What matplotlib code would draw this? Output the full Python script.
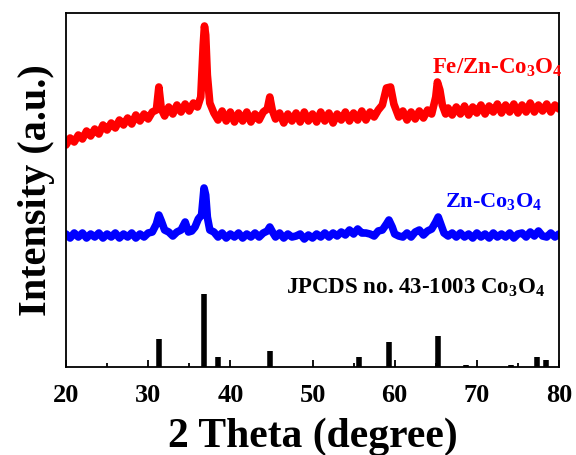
import numpy as np
import matplotlib
matplotlib.use("Agg")
import matplotlib.pyplot as plt
from matplotlib.ticker import MultipleLocator

plt.rcParams["font.family"] = ["Liberation Serif", "DejaVu Serif"]
plt.rcParams["font.weight"] = "bold"
plt.rcParams["mathtext.default"] = "regular"

# Fe/Zn-Co3O4 pattern (2theta, intensity a.u.)
fe_x = [20.0, 20.5, 21.0, 21.5, 22.0, 22.5, 23.0, 23.5, 24.0, 24.5, 25.0, 25.5, 26.0, 26.5,
        27.0, 27.5, 28.0, 28.5, 29.0, 29.5, 30.0, 30.5, 31.0, 31.3, 31.6, 32.0, 32.5, 33.0,
        33.5, 34.0, 34.5, 35.0, 35.5, 36.0, 36.4, 36.7, 36.85, 37.0, 37.2, 37.5, 38.0, 38.5,
        39.0, 39.5, 40.0, 40.5, 41.0, 41.5, 42.0, 42.5, 43.0, 43.5, 44.0, 44.5, 44.8, 45.1,
        45.5, 46.0, 46.5, 47.0, 47.5, 48.0, 48.5, 49.0, 49.5, 50.0, 50.5, 51.0, 51.5, 52.0,
        52.5, 53.0, 53.5, 54.0, 54.5, 55.0, 55.5, 56.0, 56.5, 57.0, 57.5, 58.0, 58.5, 59.0,
        59.5, 59.9, 60.5, 61.0, 61.5, 62.0, 62.5, 63.0, 63.5, 64.0, 64.5, 65.0, 65.2, 65.5,
        65.8, 66.2, 66.5, 67.0, 67.5, 68.0, 68.5, 69.0, 69.5, 70.0, 70.5, 71.0, 71.5, 72.0,
        72.5, 73.0, 73.5, 74.0, 74.5, 75.0, 75.5, 76.0, 76.5, 77.0, 77.5, 78.0, 78.5, 79.0,
        79.5, 80.0]
fe_y = [222, 229, 225, 232, 228, 236, 231, 238, 233, 242, 237, 244, 239, 247,
        242, 249, 243, 252, 246, 253, 248, 255, 257, 280, 258, 251, 260, 253,
        262, 255, 263, 256, 264, 260, 270, 322, 341, 332, 292, 264, 254, 247,
        256, 246, 255, 245, 254, 246, 255, 245, 253, 247, 255, 258, 270, 257,
        248, 254, 244, 253, 246, 254, 245, 255, 246, 253, 245, 255, 246, 254,
        244, 253, 247, 255, 246, 254, 247, 256, 247, 255, 250, 257, 262, 279,
        280, 263, 250, 256, 247, 255, 248, 256, 249, 257, 253, 270, 285, 277,
        262, 253, 259, 252, 260, 253, 261, 252, 260, 254, 262, 253, 261, 255,
        263, 254, 262, 255, 263, 254, 262, 255, 264, 255, 262, 256, 263, 255,
        262, 258]

# Zn-Co3O4 pattern
zn_x = [20.0, 20.5, 21.0, 21.5, 22.0, 22.5, 23.0, 23.5, 24.0, 24.5, 25.0, 25.5, 26.0, 26.5,
        27.0, 27.5, 28.0, 28.5, 29.0, 29.5, 30.0, 30.5, 31.0, 31.3, 31.6, 32.0, 32.5, 33.0,
        33.5, 34.0, 34.5, 34.9, 35.3, 35.7, 36.1, 36.5, 36.8, 37.0, 37.2, 37.5, 38.0, 38.5,
        39.0, 39.5, 40.0, 40.5, 41.0, 41.5, 42.0, 42.5, 43.0, 43.5, 44.0, 44.5, 44.8, 45.2,
        45.5, 46.0, 46.5, 47.0, 47.5, 48.0, 48.5, 49.0, 49.5, 50.0, 50.5, 51.0, 51.5, 52.0,
        52.5, 53.0, 53.5, 54.0, 54.5, 55.0, 55.5, 56.0, 56.5, 57.0, 57.5, 58.0, 58.5, 59.0,
        59.3, 59.7, 60.0, 60.5, 61.0, 61.5, 62.0, 62.5, 63.0, 63.5, 64.0, 64.5, 65.0, 65.3,
        65.6, 66.0, 66.5, 67.0, 67.5, 68.0, 68.5, 69.0, 69.5, 70.0, 70.5, 71.0, 71.5, 72.0,
        72.5, 73.0, 73.5, 74.0, 74.5, 75.0, 75.5, 76.0, 76.5, 77.0, 77.5, 78.0, 78.5, 79.0,
        79.5, 80.0]
zn_y = [133, 129, 134, 130, 134, 129, 133, 130, 134, 129, 133, 130, 134, 129,
        133, 130, 134, 129, 133, 130, 134, 135, 143, 152, 146, 137, 135, 131,
        135, 137, 145, 135, 136, 140, 148, 152, 179, 172, 150, 137, 135, 130,
        134, 129, 133, 130, 134, 129, 133, 130, 134, 130, 134, 136, 140, 134,
        130, 134, 129, 133, 130, 131, 133, 128, 132, 129, 133, 130, 134, 130,
        134, 131, 135, 132, 137, 133, 138, 134, 134, 133, 131, 136, 137, 143,
        147, 140, 133, 131, 130, 134, 130, 135, 137, 132, 136, 138, 145, 150,
        143, 134, 131, 134, 130, 134, 130, 133, 129, 134, 130, 133, 129, 134,
        130, 133, 130, 134, 129, 133, 134, 130, 135, 131, 136, 131, 130, 134,
        130, 133]

# reference card Co3O4
ref_x = [31.27, 36.85, 38.54, 44.81, 55.66, 59.36, 65.24, 68.63, 74.12, 77.33, 78.40]
ref_y = [28, 73, 10, 16, 10, 25, 31, 2, 2, 10, 7]

fig = plt.figure(figsize=(5.76, 4.55), dpi=100)
ax = fig.add_axes([0.1146, 0.1934, 0.8559, 0.778])

ax.plot(fe_x, fe_y, color="#ff0000", lw=5.5, solid_joinstyle="round", solid_capstyle="round")
ax.plot(zn_x, zn_y, color="#0000ff", lw=5.5, solid_joinstyle="round", solid_capstyle="round")
ax.vlines(ref_x, 0, ref_y, color="black", lw=4)

ax.text(80.4, 299, "Fe/Zn-Co$_3$O$_4$", color="#ff0000", fontsize=16.5,
        fontweight="bold", ha="right", va="center")
ax.text(78.0, 166, "Zn-Co$_3$O$_4$", color="#0000ff", fontsize=16,
        fontweight="bold", ha="right", va="center")
ax.text(78.3, 79, "JPCDS no. 43-1003 Co$_3$O$_4$", color="black", fontsize=16.5,
        fontweight="bold", ha="right", va="center")

ax.set_xlim(20, 80)
ax.set_ylim(0, 354)
ax.xaxis.set_major_locator(MultipleLocator(10))
ax.xaxis.set_minor_locator(MultipleLocator(5))
ax.tick_params(axis="x", which="major", direction="in", length=5, width=1.3,
               labelsize=19, pad=12)
ax.tick_params(axis="x", which="minor", direction="in", length=3, width=1.3)
ax.set_yticks([])
for s in ax.spines.values():
    s.set_linewidth(1.3)

ax.set_xlabel("2 Theta (degree)", fontsize=30, fontweight="bold", labelpad=8)
ax.set_ylabel("Intensity (a.u.)", fontsize=29, fontweight="bold", labelpad=8)

fig.savefig("out.png", dpi=100)
